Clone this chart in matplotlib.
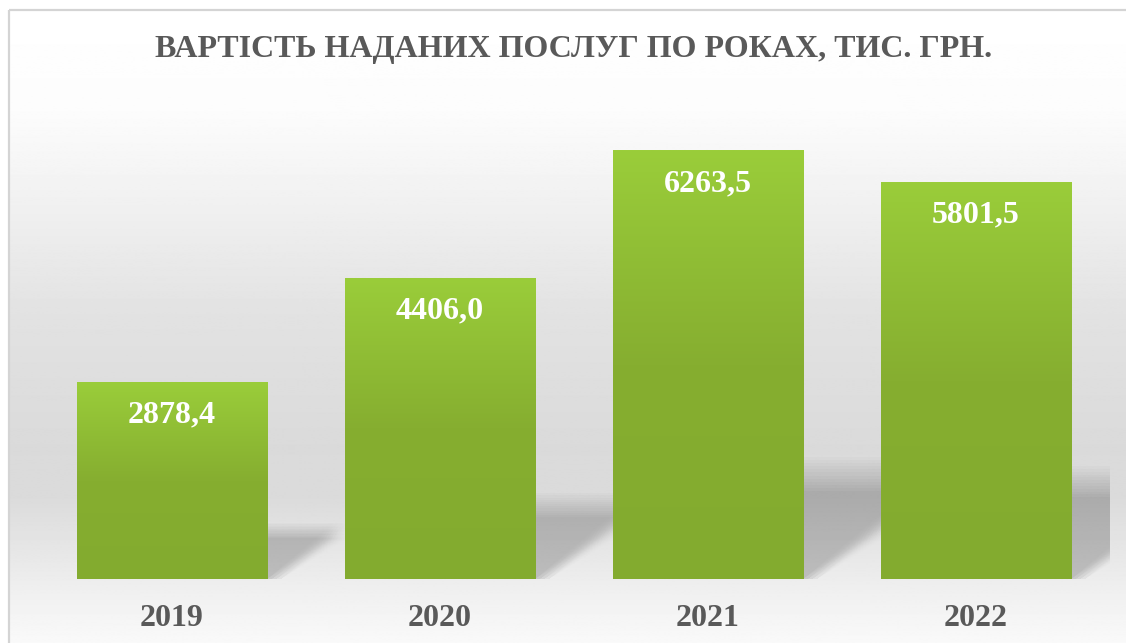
import matplotlib.pyplot as plt
import numpy as np
from matplotlib.patches import Rectangle, Polygon
from matplotlib.colors import LinearSegmentedColormap

# data
years = ['2019', '2020', '2021', '2022']
values = [2878.4, 4406.0, 6263.5, 5801.5]
title = 'ВАРТІСТЬ НАДАНИХ ПОСЛУГ ПО РОКАХ, ТИС. ГРН.'

W, H = 1126, 643
fig = plt.figure(figsize=(W / 100, H / 100), dpi=100)
plt.rcParams['font.family'] = ['Liberation Serif', 'DejaVu Serif']

# background: white -> grey -> white vertical gradient inside a light border
bg = fig.add_axes([0, 0, 1, 1])
bg.axis('off')
ys = np.arange(H)
stops_y = [0, 100, 170, 300, 430, 480, 530, 579, 610, 643]
stops_v = [255, 252, 243, 226, 218, 219, 230, 241, 247, 253]
col = np.interp(ys, stops_y, stops_v) / 255.0
grad = np.repeat(col[:, None], 2, axis=1)
bg.imshow(grad, cmap='gray', vmin=0, vmax=1, extent=(9, W + 20, H + 20, 10),
          aspect='auto', zorder=0)
bg.add_patch(Rectangle((9, 10), W + 40, H + 40, fill=False, ec='#d4d4d4', lw=1.6, zorder=1))
bg.set_xlim(0, W)
bg.set_ylim(H, 0)

# main plot area
x0, x1, ytop, ybot = 38, 1110, 100, 579
ax = fig.add_axes([x0 / W, (H - ybot) / H, (x1 - x0) / W, (ybot - ytop) / H])
ax.patch.set_alpha(0)
ymax = 7000
for s in ax.spines.values():
    s.set_visible(False)
ax.set_yticks([])

xpos = np.arange(len(years))
bw = 0.71

# soft perspective shadows behind the bars (many faint layers = blur)
px_x = (x1 - x0) / len(years)
px_y = (ybot - ytop) / ymax
for xi, v in zip(xpos, values):
    sh = 0.34 * v * px_y / px_x
    for f in np.linspace(0.84, 1.16, 12):
        for dx in np.linspace(0, 14, 4) / px_x:
            hs = 0.245 * v * f
            poly = Polygon([(xi - bw / 2, 0), (xi + bw / 2 + dx, 0),
                            (xi + bw / 2 + sh + dx, hs), (xi - bw / 2 + sh, hs)],
                           closed=True, fc='black', ec='none', alpha=0.005, zorder=1)
            ax.add_patch(poly)

# bars with green vertical gradient
green = LinearSegmentedColormap.from_list('g', ['#83ab2f', '#86ae30', '#9acd3a'])
bars = ax.bar(xpos, values, width=bw, color='none', edgecolor='none', zorder=2)
gy = np.linspace(0, 1, 256)[:, None]
for b, v in zip(bars, values):
    im = ax.imshow(gy, cmap=green, origin='lower', aspect='auto',
                   extent=(b.get_x(), b.get_x() + b.get_width(), 0, v), zorder=2)
    im.set_clip_path(b)
    ax.annotate(f'{v:.1f}'.replace('.', ','), (b.get_x() + b.get_width() / 2, v),
                xytext=(0, -24), textcoords='offset points', ha='center', va='center',
                color='white', fontsize=23, fontweight='bold', zorder=3)

ax.set_xlim(-0.5, len(years) - 0.5)
ax.set_ylim(0, ymax)
ax.set_xticks(xpos)
ax.set_xticklabels(years, fontsize=23, fontweight='bold', color='#595959')
ax.tick_params(axis='x', length=0, pad=18)

fig.text((x0 + x1) / 2 / W, 1 - 49 / H, title, ha='center', va='center',
         fontsize=23, fontweight='bold', color='#595959')

fig.savefig('out.png', dpi=100)
